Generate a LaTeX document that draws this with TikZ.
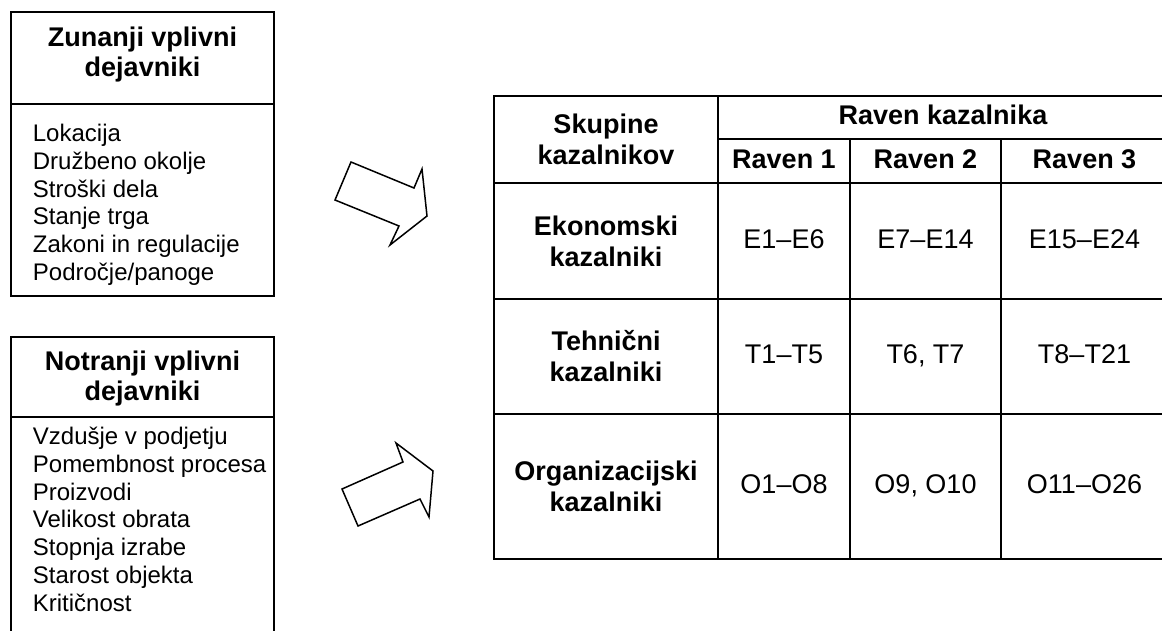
\documentclass[tikz,border=0pt]{standalone}
\usepackage{fontspec}
\setmainfont{Liberation Sans}
\begin{document}
\begin{tikzpicture}[x=1pt, y=-1pt, line width=1.8pt,
  head/.style={font=\bfseries\fontsize{27}{30}\selectfont, align=center, inner sep=0pt},
  item/.style={font=\fontsize{24}{27.7}\selectfont, align=left, anchor=north west, inner sep=0pt},
  cell/.style={font=\fontsize{27}{31}\selectfont, align=center, inner sep=0pt},
  hcell/.style={cell, font=\bfseries\fontsize{27}{31}\selectfont},
  oneline/.style={text height=19.5pt, text depth=5.5pt},
  bigarrow/.style={draw=black, line width=1.5pt, fill=white, line join=miter}]
  \useasboundingbox (0,0) rectangle (1162,630);
  % external factors
  \draw (11,12) rectangle (274,296);
  \draw (11,104) -- (274,104);
  \node[head] (zunanji) at (142.5,55) {Zunanji vplivni\\dejavniki};
  \node[item] (zunanjilist) at (32,123.5) {Lokacija\\Družbeno okolje\\Stroški dela\\Stanje trga\\Zakoni in regulacije\\Področje/panoge};
  % internal factors
  \draw (11,645) -- (11,337) -- (274,337) -- (274,645);
  \draw (11,417) -- (274,417);
  \node[head] (notranji) at (142.5,379) {Notranji vplivni\\dejavniki};
  \node[item] (notranjilist) at (32,426.5) {Vzdušje v podjetju\\Pomembnost procesa\\Proizvodi\\Velikost obrata\\Stopnja izrabe\\Starost objekta\\Kritičnost};
  % arrows
  \draw[bigarrow] (351,162) -- (414,188) -- (422,169) -- (427,216) -- (390,245) -- (399,226) -- (335,200) -- cycle;
  \draw[bigarrow] (342,489) -- (403,462) -- (396,443) -- (433,471) -- (429,517) -- (420,499) -- (358,526) -- cycle;
  % table
  \draw[line width=2.6pt] (494,96) rectangle (1168,559);
  \draw (718,96) -- (718,559);
  \draw (850,139) -- (850,559);
  \draw (1001,139) -- (1001,559);
  \draw (718,139) -- (1168,139);
  \draw (494,183) -- (1168,183);
  \draw (494,299) -- (1168,299);
  \draw (494,414) -- (1168,414);
  \node[hcell] (skupine) at (606,139.5) {Skupine\\kazalnikov};
  \node[hcell, oneline] (raven) at (943,117.5) {Raven kazalnika};
  \node[hcell, oneline] (raven1) at (784,161) {Raven 1};
  \node[hcell, oneline] (raven2) at (925.5,161) {Raven 2};
  \node[hcell, oneline] (raven3) at (1084.5,161) {Raven 3};
  \node[hcell] (ekon) at (606,241) {Ekonomski\\kazalniki};
  \node[cell, oneline] (e1) at (784,241) {E1–E6};
  \node[cell, oneline] (e2) at (925.5,241) {E7–E14};
  \node[cell, oneline] (e3) at (1084.5,241) {E15–E24};
  \node[hcell] (tehn) at (606,356.5) {Tehnični\\kazalniki};
  \node[cell, oneline] (t1) at (784,356.5) {T1–T5};
  \node[cell, oneline] (t2) at (925.5,356.5) {T6, T7};
  \node[cell, oneline] (t3) at (1084.5,356.5) {T8–T21};
  \node[hcell] (org) at (606,486.5) {Organizacijski\\kazalniki};
  \node[cell, oneline] (o1) at (784,486.5) {O1–O8};
  \node[cell, oneline] (o2) at (925.5,486.5) {O9, O10};
  \node[cell, oneline] (o3) at (1084.5,486.5) {O11–O26};
\end{tikzpicture}
\end{document}
